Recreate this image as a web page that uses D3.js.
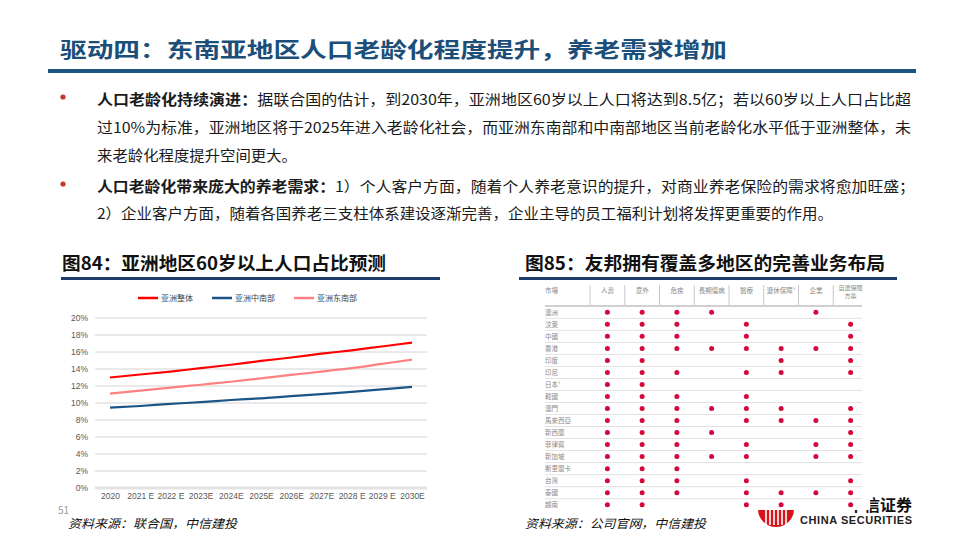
<!DOCTYPE html>
<html><head><meta charset="utf-8">
<script src="https://cdn.jsdelivr.net/npm/d3@7"></script>
<style>
body{margin:0;background:#fff;}
svg{display:block;font-family:"Noto Sans CJK SC","Noto Sans",sans-serif;}
</style></head>
<body><svg id="c" width="960" height="540"></svg>
<script>
// ---------- data ----------
const years = ["2020","2021 E","2022 E","2023E","2024E","2025E","2026E","2027E","2028 E","2029 E","2030E"];
const asiaTotal = [13.0,13.35,13.7,14.1,14.5,14.95,15.35,15.8,16.2,16.65,17.1];
const asiaSouthCentral = [9.45,9.65,9.9,10.1,10.35,10.55,10.8,11.05,11.3,11.6,11.9];
const asiaSouthEast = [11.1,11.45,11.8,12.15,12.5,12.9,13.3,13.7,14.1,14.6,15.1];
const seriesNames = ["亚洲整体","亚洲中南部","亚洲东南部"];
const yTicks = [0,2,4,6,8,10,12,14,16,18,20];

const tableCols = ["人壽","意外","危疾","長期傷病","醫療","退休保障¹","企業","自選保障|方案"];
const tableRows = ["澳洲","汶萊","中國","香港","印度","印尼","日本¹","韓國","澳門","馬來西亞","新西蘭","菲律賓","新加坡","斯里蘭卡","台灣","泰國","越南"];
const tableDots = [
  [0,1,2,3,6],[0,1,2,4,7],[0,1,2,4,7],[0,1,2,3,4,5,6,7],[0,1,5,7],[0,1,2,4,5,7],
  [0,1],[0,1,2,4],[0,1,2,3,4,5,7],[0,1,2,4,5,6,7],[0,1,2,3,7],[0,1,2,4,6,7],
  [0,1,2,3,4,6,7],[0,1,2],[0,1,2,4,7],[0,1,2,4,5,6,7],[0,1,4,5,7]
];

const svg = d3.select("#c");
const navy = "#1b4f7a";

// ---------- page header ----------
svg.append("text").attr("x",60).attr("y",57).attr("font-size",21).attr("font-weight",700)
  .attr("fill",navy).attr("textLength",667).attr("lengthAdjust","spacingAndGlyphs")
  .text("驱动四：东南亚地区人口老龄化程度提升，养老需求增加");
svg.append("rect").attr("x",48).attr("y",69).attr("width",868).attr("height",4).attr("fill","#1b5582");

// ---------- bullets ----------
const bullets = [
  {y:105, bold:"人口老龄化持续演进：", rest:"据联合国的估计，到2030年，亚洲地区60岁以上人口将达到8.5亿；若以60岁以上人口占比超", w:814},
  {y:133, bold:"", rest:"过10%为标准，亚洲地区将于2025年进入老龄化社会，而亚洲东南部和中南部地区当前老龄化水平低于亚洲整体，未", w:814},
  {y:161, bold:"", rest:"来老龄化程度提升空间更大。", w:200},
  {y:192, bold:"人口老龄化带来庞大的养老需求：", rest:"1）个人客户方面，随着个人养老意识的提升，对商业养老保险的需求将愈加旺盛；", w:818},
  {y:219, bold:"", rest:"2）企业客户方面，随着各国养老三支柱体系建设逐渐完善，企业主导的员工福利计划将发挥更重要的作用。", w:736}
];
[100,187].forEach(cy=>svg.append("circle").attr("cx",63).attr("cy",cy-3).attr("r",2.6).attr("fill","#c0392b"));
bullets.forEach(b=>{
  const t = svg.append("text").attr("x",97).attr("y",b.y).attr("font-size",14.5).attr("fill","#1a1a1a")
    .attr("textLength",b.w).attr("lengthAdjust","spacingAndGlyphs");
  if(b.bold) t.append("tspan").attr("font-weight",700).text(b.bold);
  t.append("tspan").text(b.rest);
});

// ---------- section titles ----------
function secTitle(x,text,w,lx,lw){
  svg.append("text").attr("x",x).attr("y",270).attr("font-size",18).attr("font-weight",700)
    .attr("fill","#111").attr("textLength",w).attr("lengthAdjust","spacingAndGlyphs").text(text);
  svg.append("rect").attr("x",lx).attr("y",277).attr("width",lw).attr("height",3).attr("fill","#1f3d6b");
}
secTitle(62,"图84：亚洲地区60岁以上人口占比预测",324,61,379);
secTitle(525,"图85：友邦拥有覆盖多地区的完善业务布局",360,519,378);

// ---------- line chart ----------
const x = d3.scalePoint().domain(years).range([110,412]);
const y = d3.scaleLinear().domain([0,20]).range([488,318]);
const gGrid = svg.append("g");
gGrid.selectAll("line").data(yTicks).join("line")
  .attr("x1",95).attr("x2",427).attr("y1",d=>y(d)).attr("y2",d=>y(d))
  .attr("stroke",d=>d===0?"#e3e3e3":"#d4d4d4").attr("stroke-width",d=>d===0?3:1);
const yAxis = d3.axisLeft(y).tickValues(yTicks).tickFormat(d=>d+"%").tickSize(0).tickPadding(0);
const ya = svg.append("g").attr("transform","translate(88,0)").call(yAxis);
ya.select(".domain").remove();
ya.selectAll("text").attr("font-size",8.5).attr("fill","#595959").attr("font-family","Liberation Sans, Arial, sans-serif");
const xAxis = d3.axisBottom(x).tickSize(0).tickPadding(0);
const xa = svg.append("g").attr("transform","translate(0,493)").call(xAxis);
xa.select(".domain").remove();
xa.selectAll("text").attr("font-size",8.5).attr("fill","#595959").attr("font-family","Liberation Sans, Arial, sans-serif");

const colors = ["#ff0000","#1a5585","#ff8080"];
const seriesData = [asiaTotal, asiaSouthCentral, asiaSouthEast];
const line = d3.line().x((d,i)=>x(years[i])).y(d=>y(d)).curve(d3.curveMonotoneX);
seriesData.forEach((s,i)=>{
  svg.append("path").datum(s).attr("d",line).attr("fill","none").attr("stroke",colors[i]).attr("stroke-width",2.2);
});
// legend
const legX = [138,212,294];
seriesNames.forEach((n,i)=>{
  svg.append("line").attr("x1",legX[i]).attr("x2",legX[i]+20).attr("y1",298).attr("y2",298)
    .attr("stroke",colors[i]).attr("stroke-width",2.5);
  svg.append("text").attr("x",legX[i]+23).attr("y",301).attr("font-size",8).attr("fill","#444").text(n);
});

// ---------- logo (partially hidden by table) ----------
svg.append("text").attr("x",848).attr("y",511).attr("font-size",16).attr("font-weight",700).attr("fill","#111").text("中信证券");
svg.append("text").attr("x",800).attr("y",524).attr("font-size",11).attr("font-weight",700).attr("fill","#222")
  .attr("font-family","Liberation Sans, Arial, sans-serif").attr("textLength",112).text("CHINA SECURITIES");
const arc = d3.arc().innerRadius(0).outerRadius(18).startAngle(Math.PI/2).endAngle(Math.PI*1.5);
svg.append("path").attr("d",arc()).attr("transform","translate(776,509)").attr("fill","#d7141a");
[-10,-6,-2,2,6,10].forEach(dx=>svg.append("rect").attr("x",776+dx-0.8).attr("y",509).attr("width",1.6).attr("height",16).attr("fill","#fff"));

// ---------- table ----------
svg.append("rect").attr("x",520).attr("y",281).attr("width",350).attr("height",229).attr("fill","#fff");
const colX = d3.scaleBand().domain(d3.range(tableCols.length)).range([590,868]);
const rowY = d3.scalePoint().domain(d3.range(tableRows.length)).range([312.3,504.7]);
const tg = svg.append("g").attr("font-size",6.5).attr("fill","#8a8a8a");
tg.append("text").attr("x",545).attr("y",293).text("市場");
tableCols.forEach((c,i)=>{
  const parts = c.split("|");
  parts.forEach((p,k)=>tg.append("text").attr("x",colX(i)+colX.bandwidth()/2).attr("y",(parts.length>1?290:293)+k*7.5)
    .attr("text-anchor","middle").attr("font-size",parts.length>1?6:6.5).text(p));
  tg.append("line").attr("x1",colX(i)).attr("x2",colX(i)).attr("y1",285).attr("y2",305).attr("stroke","#c8c8c8").attr("stroke-width",1);
});
tg.append("line").attr("x1",545).attr("x2",862).attr("y1",306).attr("y2",306).attr("stroke","#c0c0c0").attr("stroke-width",1.5);
tableRows.forEach((r,i)=>{
  tg.append("text").attr("x",545).attr("y",rowY(i)+2.5).text(r);
  if(i<tableRows.length-1)
    tg.append("line").attr("x1",545).attr("x2",862).attr("y1",rowY(i)+6).attr("y2",rowY(i)+6).attr("stroke","#e2e2e2").attr("stroke-width",1);
  tableDots[i].forEach(c=>{
    tg.append("circle").attr("cx",colX(c)+colX.bandwidth()/2).attr("cy",rowY(i)).attr("r",2.5).attr("fill","#d6073a");
  });
});

// ---------- footer ----------
svg.append("text").attr("x",58).attr("y",514).attr("font-size",10).attr("fill","#999").text("51");
[[68,"资料来源：联合国，中信建投",169],[525,"资料来源：公司官网，中信建投",181]].forEach(([fx,t,w])=>{
  svg.append("text").attr("x",fx).attr("y",528).attr("font-size",12).attr("font-style","italic").attr("fill","#111")
    .attr("textLength",w).attr("lengthAdjust","spacingAndGlyphs").text(t);
});
</script></body></html>
